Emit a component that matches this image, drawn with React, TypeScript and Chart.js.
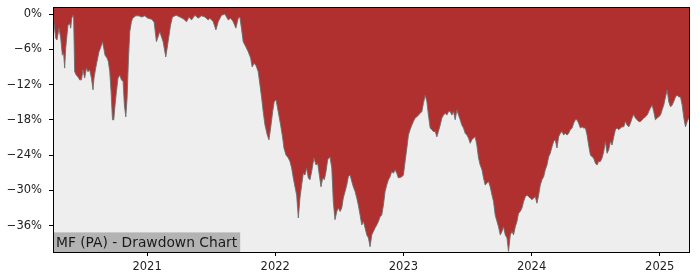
import React, { useEffect, useRef } from "react";
import { Chart, registerables } from "chart.js";

Chart.register(...registerables);

// Dates as decimal years
const years: number[] = [
  2020.271, 2020.287, 2020.297, 2020.313, 2020.326, 2020.339, 2020.349, 2020.357, 2020.365, 2020.375,
  2020.383, 2020.396, 2020.404, 2020.412, 2020.422, 2020.427, 2020.435, 2020.448, 2020.461, 2020.474,
  2020.488, 2020.5, 2020.513, 2020.527, 2020.539, 2020.552, 2020.566, 2020.578, 2020.586, 2020.599,
  2020.609, 2020.625, 2020.636, 2020.652, 2020.662, 2020.672, 2020.688, 2020.698, 2020.709, 2020.719,
  2020.73, 2020.74, 2020.75, 2020.761, 2020.773, 2020.787, 2020.8, 2020.813, 2020.823, 2020.834,
  2020.844, 2020.855, 2020.865, 2020.878, 2020.888, 2020.912, 2020.935, 2020.959, 2020.982, 2021.006,
  2021.037, 2021.055, 2021.073, 2021.099, 2021.125, 2021.146, 2021.164, 2021.183, 2021.198, 2021.227,
  2021.256, 2021.282, 2021.308, 2021.327, 2021.347, 2021.373, 2021.398, 2021.425, 2021.451, 2021.477,
  2021.49, 2021.516, 2021.537, 2021.555, 2021.581, 2021.607, 2021.633, 2021.652, 2021.672, 2021.693,
  2021.711, 2021.724, 2021.738, 2021.75, 2021.771, 2021.789, 2021.808, 2021.82, 2021.834, 2021.849,
  2021.867, 2021.881, 2021.894, 2021.906, 2021.92, 2021.938, 2021.951, 2021.964, 2021.98, 2021.992,
  2022.006, 2022.023, 2022.042, 2022.058, 2022.068, 2022.084, 2022.102, 2022.115, 2022.128, 2022.141,
  2022.154, 2022.167, 2022.18, 2022.193, 2022.206, 2022.219, 2022.232, 2022.245, 2022.258, 2022.271,
  2022.284, 2022.302, 2022.318, 2022.331, 2022.344, 2022.357, 2022.37, 2022.383, 2022.396, 2022.409,
  2022.427, 2022.441, 2022.453, 2022.466, 2022.48, 2022.492, 2022.506, 2022.519, 2022.531, 2022.545,
  2022.558, 2022.57, 2022.584, 2022.597, 2022.609, 2022.623, 2022.636, 2022.648, 2022.662, 2022.675,
  2022.688, 2022.701, 2022.714, 2022.727, 2022.74, 2022.753, 2022.766, 2022.779, 2022.792, 2022.805,
  2022.818, 2022.831, 2022.844, 2022.857, 2022.87, 2022.883, 2022.896, 2022.909, 2022.922, 2022.935,
  2022.948, 2022.961, 2022.974, 2022.988, 2023.0, 2023.013, 2023.027, 2023.039, 2023.052, 2023.066,
  2023.078, 2023.091, 2023.105, 2023.117, 2023.131, 2023.144, 2023.156, 2023.17, 2023.183, 2023.195,
  2023.209, 2023.222, 2023.234, 2023.248, 2023.261, 2023.273, 2023.287, 2023.3, 2023.313, 2023.326,
  2023.339, 2023.352, 2023.365, 2023.378, 2023.391, 2023.404, 2023.417, 2023.43, 2023.443, 2023.456,
  2023.469, 2023.482, 2023.495, 2023.508, 2023.521, 2023.534, 2023.547, 2023.56, 2023.573, 2023.586,
  2023.599, 2023.613, 2023.625, 2023.638, 2023.652, 2023.664, 2023.677, 2023.691, 2023.703, 2023.716,
  2023.73, 2023.742, 2023.756, 2023.769, 2023.781, 2023.795, 2023.808, 2023.82, 2023.834, 2023.847,
  2023.859, 2023.873, 2023.886, 2023.898, 2023.912, 2023.925, 2023.938, 2023.951, 2023.964, 2023.977,
  2023.99, 2024.003, 2024.016, 2024.029, 2024.042, 2024.055, 2024.068, 2024.081, 2024.094, 2024.107,
  2024.12, 2024.133, 2024.146, 2024.159, 2024.172, 2024.185, 2024.198, 2024.211, 2024.224, 2024.238,
  2024.25, 2024.263, 2024.277, 2024.289, 2024.302, 2024.316, 2024.328, 2024.341, 2024.355, 2024.367,
  2024.381, 2024.394, 2024.406, 2024.42, 2024.433, 2024.445, 2024.459, 2024.472, 2024.484, 2024.498,
  2024.511, 2024.523, 2024.537, 2024.55, 2024.563, 2024.576, 2024.589, 2024.602, 2024.615, 2024.628,
  2024.641, 2024.654, 2024.667, 2024.68, 2024.693, 2024.706, 2024.719, 2024.732, 2024.745, 2024.758,
  2024.771, 2024.784, 2024.797, 2024.81, 2024.823, 2024.836, 2024.849, 2024.863, 2024.875, 2024.888,
  2024.902, 2024.914, 2024.927, 2024.941, 2024.953, 2024.966, 2024.98, 2024.992, 2025.006, 2025.019,
  2025.031, 2025.045, 2025.058, 2025.07, 2025.084, 2025.097, 2025.109, 2025.123, 2025.136, 2025.148,
  2025.162, 2025.175, 2025.188, 2025.201, 2025.214, 2025.227, 2025.236,
];

// Drawdown in percent
const drawdown: number[] = [
  -1.0, -4.1, -4.4, -2.4, -4.1, -7.0, -6.7, -9.2, -5.8, -3.6,
  -1.9, -1.6, -2.4, -0.7, -0.2, -0.5, -9.8, -10.4, -10.7, -11.2,
  -11.2, -9.5, -10.9, -9.2, -9.8, -9.5, -10.9, -12.9, -10.9, -9.2,
  -8.1, -6.4, -5.8, -4.7, -5.8, -7.0, -7.5, -8.1, -9.8, -13.2,
  -18.0, -18.0, -15.5, -13.2, -10.9, -10.4, -11.2, -11.5, -15.5, -17.5,
  -14.3, -7.5, -3.0, -1.3, -0.7, -0.3, -0.3, -0.5, -0.3, -0.7,
  -0.9, -1.4, -4.7, -3.0, -4.7, -7.3, -4.7, -1.9, -0.5, -0.2,
  -0.5, -0.8, -1.3, -0.5, -1.0, -0.2, -0.7, -0.3, -0.5, -1.0,
  -0.7, -1.3, -2.7, -1.3, -0.2, 0.0, -1.0, -0.7, -1.3, -2.4,
  -0.7, -0.5, -2.7, -4.7, -5.6, -6.4, -7.5, -9.0, -8.4, -8.7,
  -9.8, -12.1, -14.3, -16.6, -18.9, -20.6, -21.4, -19.4, -16.6, -14.9,
  -14.6, -16.6, -18.9, -21.1, -22.8, -24.0, -24.5, -25.1, -26.2, -27.9,
  -29.4, -30.8, -34.7, -31.3, -29.1, -27.1, -27.4, -26.2, -27.9, -28.2,
  -26.8, -24.5, -25.7, -25.4, -27.4, -29.4, -27.9, -28.2, -26.8, -24.8,
  -24.3, -26.2, -31.9, -35.0, -33.6, -33.0, -33.6, -33.0, -31.3, -30.2,
  -29.1, -27.7, -27.4, -28.5, -29.4, -30.2, -31.3, -32.5, -34.2, -35.9,
  -35.3, -36.4, -37.6, -38.1, -39.6, -37.6, -37.0, -36.4, -35.9, -35.3,
  -34.5, -34.2, -32.5, -30.2, -29.1, -28.2, -27.7, -26.8, -27.1, -26.5,
  -27.1, -27.9, -27.8, -27.7, -27.4, -25.1, -22.8, -20.6, -19.7, -18.9,
  -18.3, -17.7, -17.5, -17.2, -16.9, -16.6, -15.2, -13.8, -14.9, -17.2,
  -19.4, -19.7, -20.0, -20.0, -20.9, -20.0, -18.9, -17.7, -17.2, -16.9,
  -17.2, -16.6, -16.6, -17.2, -16.6, -18.0, -16.3, -17.2, -18.0, -18.9,
  -19.4, -20.3, -20.6, -21.1, -22.0, -21.4, -21.1, -20.9, -22.3, -24.5,
  -25.7, -26.5, -27.9, -29.1, -28.8, -28.5, -29.4, -30.8, -31.9, -34.2,
  -35.3, -36.2, -37.6, -37.0, -36.2, -37.6, -38.1, -40.4, -37.6, -37.0,
  -37.6, -36.2, -35.3, -33.9, -33.6, -33.0, -31.9, -31.1, -30.8, -31.1,
  -31.3, -31.6, -31.3, -31.1, -32.2, -30.8, -29.1, -28.2, -27.7, -26.5,
  -25.7, -24.3, -23.7, -22.6, -21.7, -21.4, -22.8, -20.9, -20.3, -20.0,
  -20.6, -20.3, -20.6, -20.3, -19.7, -19.4, -18.6, -18.0, -18.0, -18.6,
  -19.4, -19.2, -19.4, -19.4, -20.6, -22.3, -24.0, -24.3, -24.5, -25.4,
  -25.7, -25.1, -25.1, -24.5, -23.4, -21.7, -23.7, -23.1, -21.7, -22.3,
  -20.9, -19.7, -19.4, -19.7, -19.4, -19.2, -19.2, -18.3, -18.9, -19.2,
  -18.6, -17.7, -17.1, -17.7, -18.0, -18.3, -18.3, -18.0, -17.7, -17.5,
  -17.2, -16.6, -16.0, -15.5, -16.6, -18.0, -17.7, -17.5, -17.2, -16.3,
  -15.5, -14.1, -12.9, -14.9, -15.8, -15.5, -14.9, -14.1, -13.8, -14.1,
  -14.1, -15.5, -17.7, -19.2, -18.3, -17.7, -17.9,
];

const xTicks: number[] = [2021, 2022, 2023, 2024, 2025];
const yTicks: number[] = [0, -6, -12, -18, -24, -30, -36];
const xRange: number[] = [2020.266, 2025.236];
const yRange: number[] = [-40.5, 1.2];
const chartLabel = "MF (PA) - Drawdown Chart";

export default function App() {
  const ref = useRef<HTMLCanvasElement | null>(null);

  useEffect(() => {
    document.body.style.margin = "0";
    const canvas = ref.current;
    if (!canvas) return;

    const decor = {
      id: "decor",
      beforeDraw(chart: any) {
        const { ctx, chartArea: a } = chart;
        ctx.save();
        ctx.fillStyle = "#ffffff";
        ctx.fillRect(0, 0, chart.width, chart.height);
        ctx.fillStyle = "#eeeeee";
        ctx.fillRect(a.left, a.top, a.right - a.left, a.bottom - a.top);
        ctx.restore();
      },
      afterDraw(chart: any) {
        const { ctx, chartArea: a } = chart;
        ctx.save();
        ctx.font = "13.8px 'DejaVu Sans'";
        const w = ctx.measureText(chartLabel).width;
        const h = 19.6;
        ctx.fillStyle = "#b3b3b3";
        ctx.fillRect(a.left, a.bottom - h, w + 6, h);
        ctx.fillStyle = "#1a1a1a";
        ctx.textBaseline = "alphabetic";
        ctx.fillText(chartLabel, a.left + 3, a.bottom - 5.3);
        ctx.strokeStyle = "#000000";
        ctx.lineWidth = 1;
        ctx.strokeRect(a.left + 0.5, a.top + 0.5, a.right - a.left - 1, a.bottom - a.top);
        ctx.restore();
      },
    };

    const chart = new Chart(canvas, {
      type: "line",
      data: {
        datasets: [
          {
            data: years.map((x, i) => ({ x, y: drawdown[i] })),
            fill: "end",
            backgroundColor: "#b03030",
            borderColor: "rgba(110,110,110,0.9)",
            borderWidth: 1,
            pointRadius: 0,
            tension: 0,
          },
        ],
      },
      options: {
        animation: false,
        responsive: false,
        devicePixelRatio: 1,
        layout: { padding: { top: 7, right: 10, left: 0, bottom: 0 } },
        plugins: { legend: { display: false }, tooltip: { enabled: false } },
        scales: {
          x: {
            type: "linear",
            min: xRange[0],
            max: xRange[1],
            afterBuildTicks: (scale: any) => {
              scale.ticks = xTicks.map((v) => ({ value: v }));
            },
            afterFit: (scale: any) => {
              scale.height = 28;
              scale.paddingLeft = 0;
              scale.paddingRight = 0;
            },
            grid: {
              display: true,
              drawOnChartArea: false,
              drawTicks: true,
              tickLength: 4,
              tickColor: "#000000",
            },
            border: { display: false },
            ticks: {
              autoSkip: false,
              maxRotation: 0,
              padding: 4,
              color: "#222222",
              font: { family: "'DejaVu Sans'", size: 11.5 },
              callback: (v: any) => String(v),
            },
          },
          y: {
            type: "linear",
            min: yRange[0],
            max: yRange[1],
            afterBuildTicks: (scale: any) => {
              scale.ticks = yTicks.map((v) => ({ value: v }));
            },
            afterFit: (scale: any) => {
              scale.width = 53;
              scale.paddingTop = 0;
              scale.paddingBottom = 0;
            },
            grid: {
              display: true,
              drawOnChartArea: false,
              drawTicks: true,
              tickLength: 4,
              tickColor: "#000000",
            },
            border: { display: false },
            ticks: {
              autoSkip: false,
              padding: 7,
              color: "#222222",
              font: { family: "'DejaVu Sans'", size: 11.5 },
              callback: (v: any) => (Number(v) < 0 ? "\u2212" : "") + Math.abs(Number(v)) + "%",
            },
          },
        },
      },
      plugins: [decor],
    });

    return () => chart.destroy();
  }, []);

  return (
    <div style={{ position: "relative", width: 700, height: 280 }}>
      <canvas ref={ref} width={700} height={280} style={{ display: "block" }} />
    </div>
  );
}
